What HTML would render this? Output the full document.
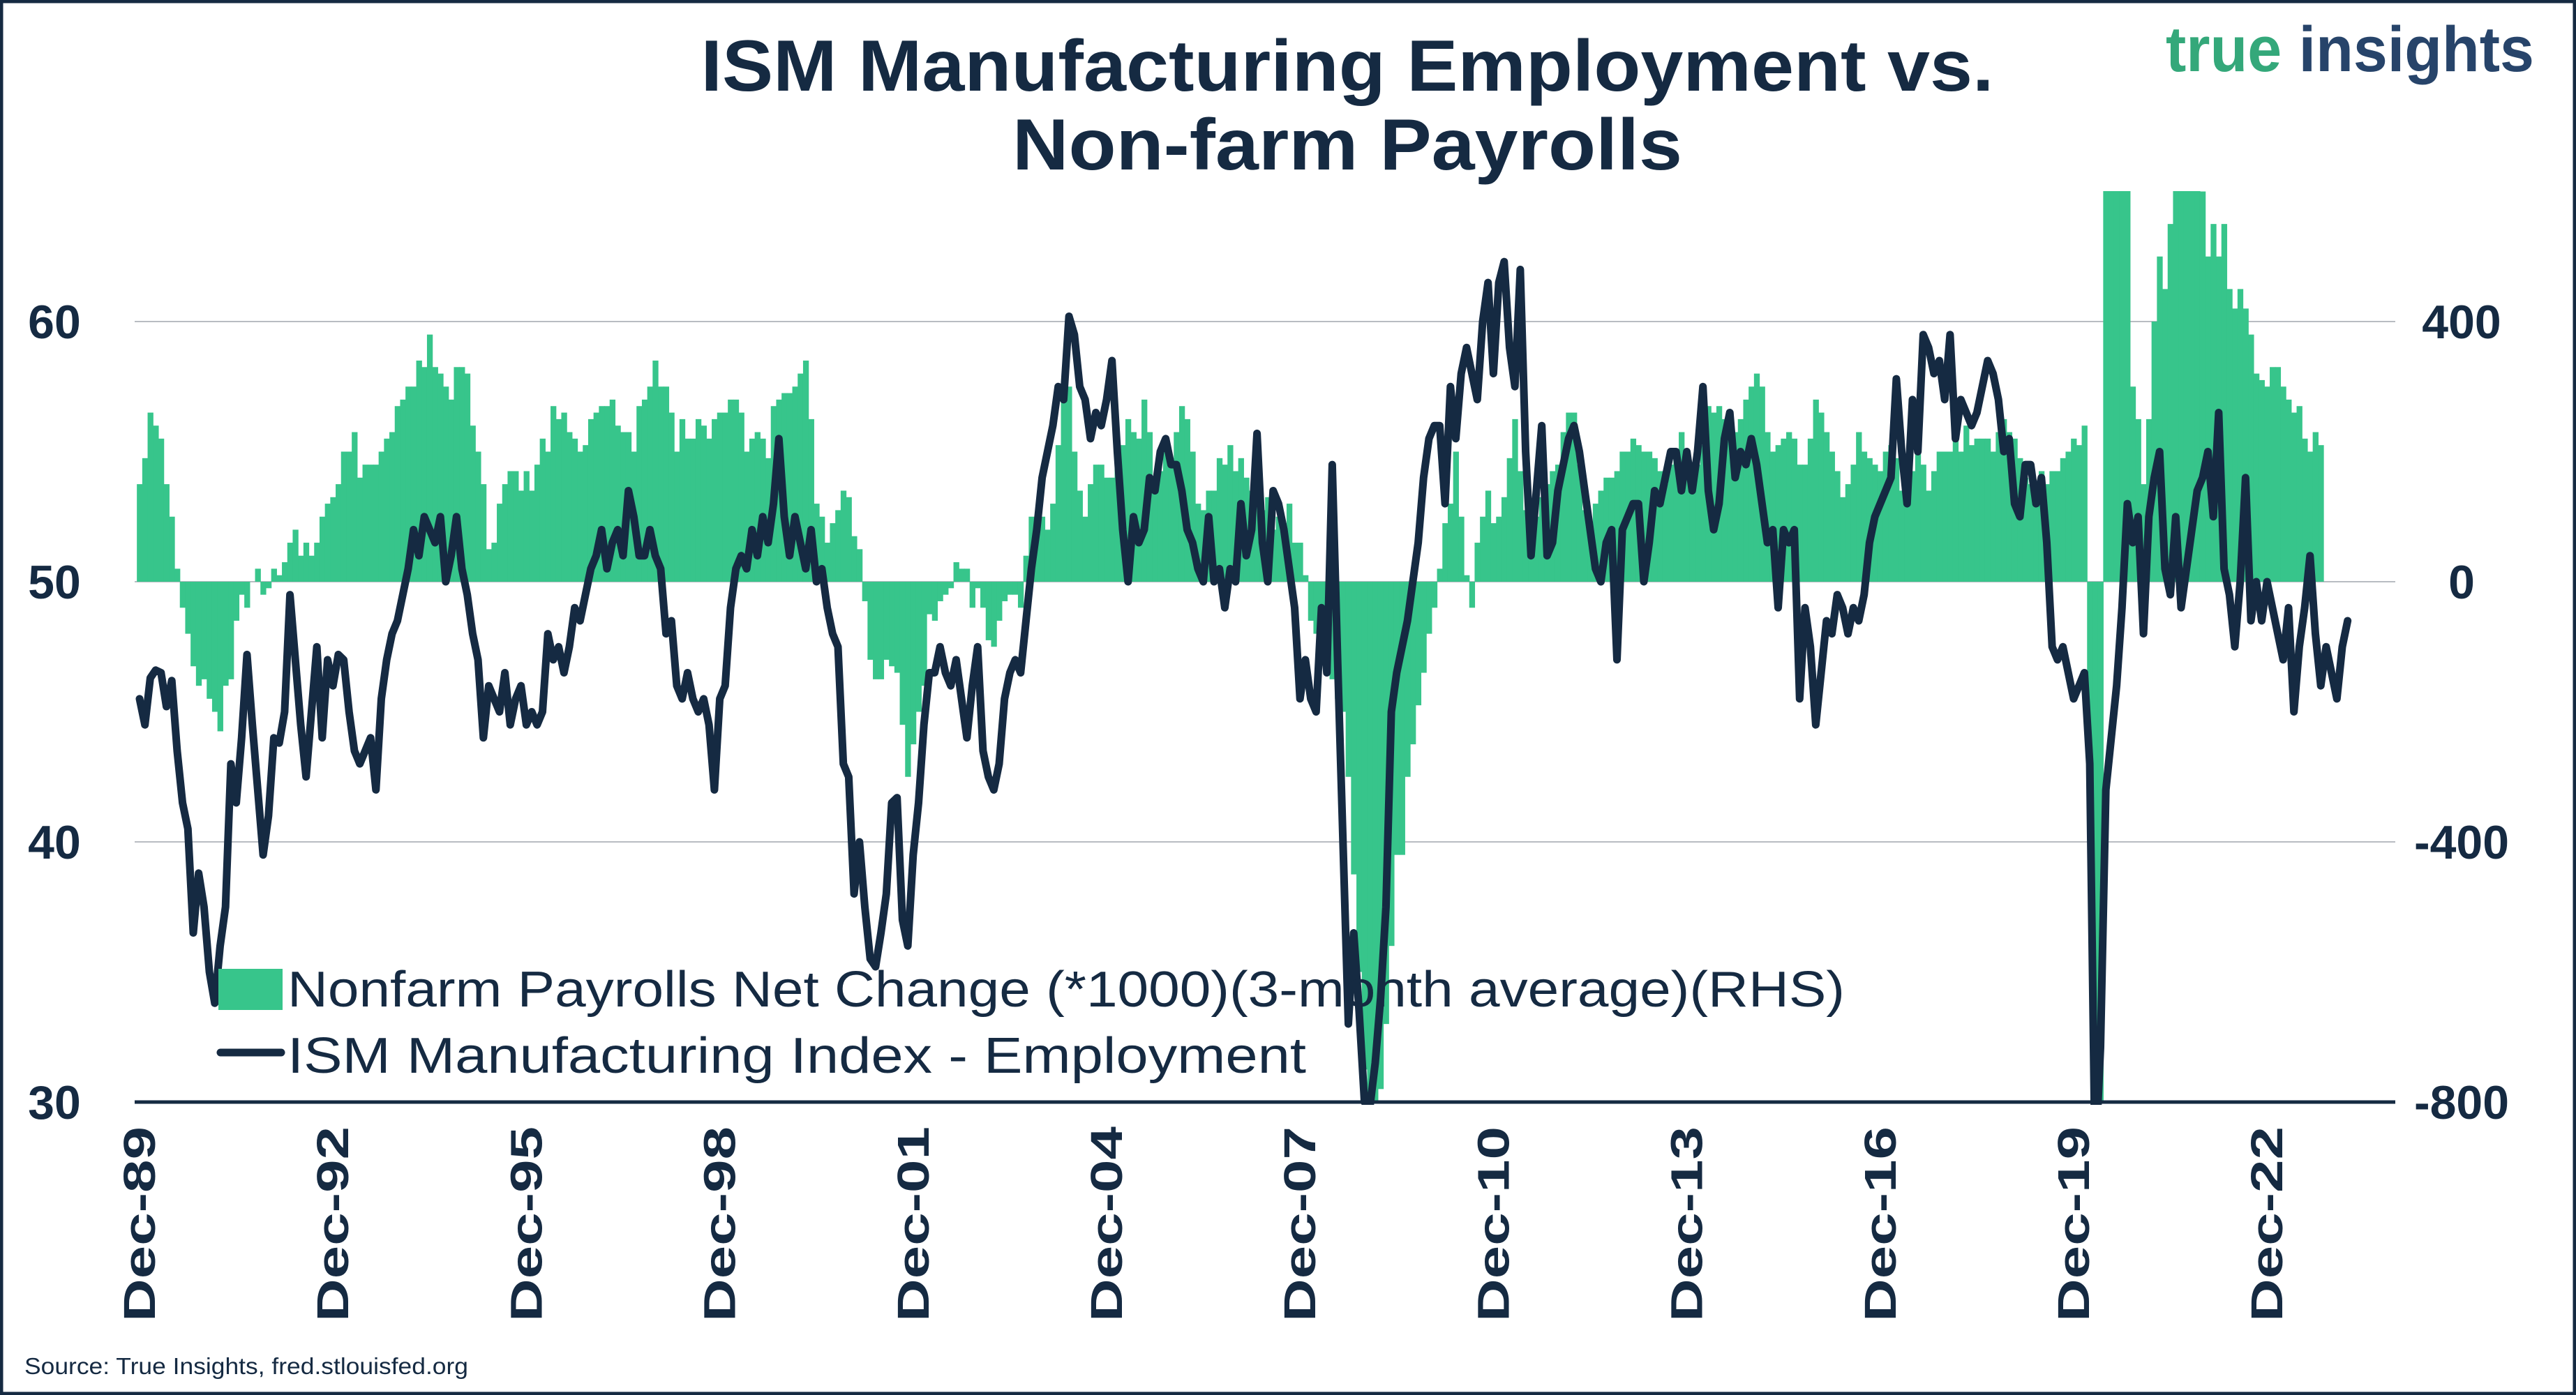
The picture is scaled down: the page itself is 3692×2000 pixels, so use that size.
<!DOCTYPE html>
<html><head><meta charset="utf-8"><style>
html,body{margin:0;padding:0;background:#fff}
svg{display:block;font-family:"Liberation Sans",sans-serif}
</style></head><body>
<svg id="chart" width="3692" height="2000" viewBox="0 0 3692 2000" xmlns="http://www.w3.org/2000/svg">
<rect x="2" y="2" width="3688" height="1996" fill="#fff" stroke="#152a42" stroke-width="5"/>
<text x="1931" y="130" text-anchor="middle" font-size="104" font-weight="bold" fill="#152a42" textLength="1853" lengthAdjust="spacingAndGlyphs">ISM Manufacturing Employment vs.</text>
<text x="1931" y="243" text-anchor="middle" font-size="104" font-weight="bold" fill="#152a42" textLength="960" lengthAdjust="spacingAndGlyphs">Non-farm Payrolls</text>
<text x="3104" y="102" font-size="92" font-weight="bold" textLength="528" lengthAdjust="spacingAndGlyphs"><tspan fill="#34a87a">true </tspan><tspan fill="#27446a">insights</tspan></text>
<g id="grid"></g>
<g id="bars" clip-path="url(#clip)"></g>
<g id="line" clip-path="url(#clip)"></g>
<g id="axes"></g>
<defs><clipPath id="clip"><rect x="150" y="274" width="3300" height="1310"/></clipPath></defs>
<g>
<rect x="313" y="1389" width="92" height="59" fill="#37c58b"/>
<text x="412" y="1443" font-size="72" fill="#152a42" textLength="2232" lengthAdjust="spacingAndGlyphs">Nonfarm Payrolls Net Change (*1000)(3-month average)(RHS)</text>
<line x1="316" y1="1509" x2="403" y2="1509" stroke="#152a42" stroke-width="11" stroke-linecap="round"/>
<text x="412" y="1538" font-size="72" fill="#152a42" textLength="1460" lengthAdjust="spacingAndGlyphs">ISM Manufacturing Index - Employment</text>
</g>
<text x="35" y="1970" font-size="33" fill="#152a42" textLength="636" lengthAdjust="spacingAndGlyphs">Source: True Insights, fred.stlouisfed.org</text>
</svg>
<script>
const ism = [45.5,
44.5,46.3,46.6,46.5,45.2,46.2,43.5,41.5,40.5,36.5,38.8,37.5,
35.0,33.8,36.0,37.5,43.0,41.5,44.0,47.2,44.5,42.0,39.5,41.0,
44.0,43.8,45.0,49.5,47.0,44.5,42.5,45.0,47.5,44.0,47.0,46.0,
47.2,47.0,45.0,43.5,43.0,43.5,44.0,42.0,45.5,47.0,48.0,48.5,
49.5,50.5,52.0,51.0,52.5,52.0,51.5,52.5,50.0,51.0,52.5,50.5,
49.5,48.0,47.0,44.0,46.0,45.5,45.0,46.5,44.5,45.5,46.0,44.5,
45.0,44.5,45.0,48.0,47.0,47.5,46.5,47.5,49.0,48.5,49.5,50.5,
51.0,52.0,50.5,51.5,52.0,51.0,53.5,52.5,51.0,51.0,52.0,51.0,
50.5,48.0,48.5,46.0,45.5,46.5,45.5,45.0,45.5,44.5,42.0,45.5,
46.0,49.0,50.5,51.0,50.5,52.0,51.0,52.5,51.5,53.0,55.5,52.5,
51.0,52.5,51.5,50.5,52.0,50.0,50.5,49.0,48.0,47.5,43.0,42.5,
38.0,40.0,37.5,35.5,35.2,36.5,38.0,41.5,41.7,37.0,36.0,39.5,
41.5,44.5,46.5,46.5,47.5,46.5,46.0,47.0,45.5,44.0,46.0,47.5,
43.5,42.5,42.0,43.0,45.5,46.5,47.0,46.5,48.5,50.5,52.0,54.0,
55.0,56.0,57.5,57.0,60.2,59.5,57.5,57.0,55.5,56.5,56.0,57.0,
58.5,55.0,52.0,50.0,52.5,51.5,52.0,54.0,53.5,55.0,55.5,54.5,
54.5,53.5,52.0,51.5,50.5,50.0,52.5,50.0,50.5,49.0,50.5,50.0,
53.0,51.0,52.0,55.7,51.5,50.0,53.5,53.0,52.0,50.5,49.0,45.5,
47.0,45.5,45.0,49.0,46.5,54.5,47.0,40.0,33.0,36.5,33.5,30.0,
29.8,31.5,34.0,37.5,45.0,46.5,47.5,48.5,50.0,51.5,54.0,55.5,
56.0,56.0,53.0,57.5,55.5,58.0,59.0,58.0,57.0,60.0,61.5,58.0,
61.5,62.3,59.0,57.5,62.0,55.0,51.0,53.5,56.0,51.0,51.5,53.5,
54.5,55.5,56.0,55.0,53.5,52.0,50.5,50.0,51.5,52.0,47.0,52.0,
52.5,53.0,53.0,50.0,51.5,53.5,53.0,54.0,55.0,55.0,53.5,55.0,
53.5,55.0,57.5,53.5,52.0,53.0,55.5,56.5,54.0,55.0,54.5,55.5,
54.5,53.0,51.5,52.0,49.0,52.0,51.5,52.0,45.5,49.0,47.5,44.5,
46.5,48.5,48.0,49.5,49.0,48.0,49.0,48.5,49.5,51.5,52.5,53.0,
53.5,54.0,57.8,55.0,53.0,57.0,55.0,59.5,59.0,58.0,58.5,57.0,
59.5,55.5,57.0,56.5,56.0,56.5,57.5,58.5,58.0,57.0,55.0,55.5,
53.0,52.5,54.5,54.5,53.0,54.0,51.5,47.5,47.0,47.5,46.5,45.5,
46.0,46.5,43.0,27.5,32.1,42.0,44.0,46.0,49.0,53.0,51.5,52.5,
48.0,52.5,54.0,55.0,50.5,49.5,52.5,49.0,50.5,52.0,53.5,54.0,
55.0,52.5,56.5,50.5,49.5,47.5,50.0,54.0,48.5,50.0,48.5,50.0,
49.0,48.0,47.0,49.0,45.0,47.5,49.0,51.0,48.0,46.0,47.5,46.5,
45.5,47.5,48.5];
const nfp = [150,
190,260,240,220,150,100,20,-40,-80,-130,-160,-150,
-180,-200,-230,-160,-150,-60,-20,-40,0,20,-20,-10,
20,10,30,60,80,40,60,40,60,100,120,130,
150,200,200,230,160,180,180,180,200,220,230,270,
280,300,300,340,330,380,330,320,300,280,330,330,
320,240,200,150,50,60,120,150,170,170,140,170,
140,180,220,200,270,250,260,230,220,200,210,250,
260,270,270,280,240,230,230,200,270,280,300,340,
300,300,260,200,250,220,220,250,240,220,250,260,
260,280,280,260,200,220,230,220,190,270,280,290,
290,300,320,340,250,120,100,60,90,110,140,130,
70,50,-30,-120,-150,-150,-120,-130,-140,-220,-300,-250,
-200,-160,-50,-60,-30,-20,-10,30,20,20,-40,-10,
-40,-90,-100,-60,-30,-20,-20,-40,40,100,80,100,
80,120,210,280,300,200,140,100,150,180,180,160,
160,190,210,250,230,220,280,230,140,170,200,190,
230,270,250,200,120,110,140,140,190,180,210,170,
190,160,140,140,110,130,80,100,90,120,60,60,
10,-60,-80,-100,-100,-150,-180,-200,-300,-450,-600,-750,
-800,-800,-780,-680,-560,-420,-420,-300,-250,-190,-140,-80,
-40,20,90,120,200,100,10,-40,60,100,140,90,
100,130,190,250,170,110,100,100,130,150,170,180,
230,260,260,180,110,70,120,140,160,160,170,200,
200,220,210,200,200,190,170,150,180,200,230,190,
170,180,210,270,260,270,250,230,230,250,280,300,
320,300,230,200,210,220,230,220,180,180,220,280,
260,230,200,170,130,150,180,230,200,190,180,170,
200,210,190,140,160,170,220,180,140,170,200,200,
200,240,200,240,210,220,220,220,200,230,250,230,
220,190,160,150,150,170,150,170,170,190,200,220,
210,240,-300,-800,-800,800,800,800,800,800,300,250,
150,250,400,500,450,550,800,800,800,800,800,600,
500,550,500,550,450,420,450,420,380,320,310,300,
330,330,300,280,260,270,220,200,230,210];
const leftTicks = [30,40,50,60];
const rightTicks = ["-800","-400","0","400"];
const xTickLabels = ["Dec-89","Dec-92","Dec-95","Dec-98","Dec-01","Dec-04","Dec-07","Dec-10","Dec-13","Dec-16","Dec-19","Dec-22"];

const NS="http://www.w3.org/2000/svg";
const X0=200, DX=7.70, Y50=834, PU=37.3;
function xs(i){return X0+DX*i;}
function yl(v){return Y50-(v-50)*PU;}
function yr(v){return yl(50+v/40);}
function mk(t,a){const e=document.createElementNS(NS,t);for(const k in a)e.setAttribute(k,a[k]);return e;}
const grid=document.getElementById('grid'), axes=document.getElementById('axes');
leftTicks.forEach((v,i)=>{
  const y=yl(v);
  if(v!==30){const g=mk('line',{x1:193,x2:3433,y1:y,y2:y,stroke:'#b8bcc2','stroke-width':2});
  
  
  grid.appendChild(g);}
  const t=mk('text',{x:78,y:y+24,'text-anchor':'middle','font-size':68,'font-weight':'bold',fill:'#152a42'});
  t.textContent=v;
  
  
  axes.appendChild(t);
  const r=mk('text',{x:3528,y:y+24,'text-anchor':'middle','font-size':68,'font-weight':'bold',fill:'#152a42'});
  r.textContent=rightTicks[i];
  
  
  axes.appendChild(r);
});
const base=mk('line',{x1:193,x2:3433,y1:yl(30),y2:yl(30),stroke:'#152a42','stroke-width':5});


axes.appendChild(base);
xTickLabels.forEach((s,i)=>{
  const x=xs(i*36);
  const t=mk('text',{x:0,y:0,'text-anchor':'end','font-size':64,'font-weight':'bold',fill:'#152a42',transform:`translate(${x+22},1615) rotate(-90)`,textLength:280,lengthAdjust:'spacingAndGlyphs'});
  t.textContent=s;
  
  
  axes.appendChild(t);
});
const bars=document.getElementById('bars');
nfp.forEach((v,i)=>{
  if(v===null)return;
  const y0=yr(0), y1=yr(v);
  const b=mk('rect',{x:xs(i)-DX/2,width:DX+0.6,y:Math.min(y0,y1),height:Math.abs(y1-y0),fill:'#37c58b'});
  
  
  bars.appendChild(b);
});
const pts=ism.map((v,i)=>xs(i).toFixed(1)+','+yl(v).toFixed(1)).join(' ');
const pl=mk('polyline',{points:pts,fill:'none',stroke:'#152a42','stroke-width':11,'stroke-linejoin':'round','stroke-linecap':'round'});


document.getElementById('line').appendChild(pl);
</script>
</body></html>
